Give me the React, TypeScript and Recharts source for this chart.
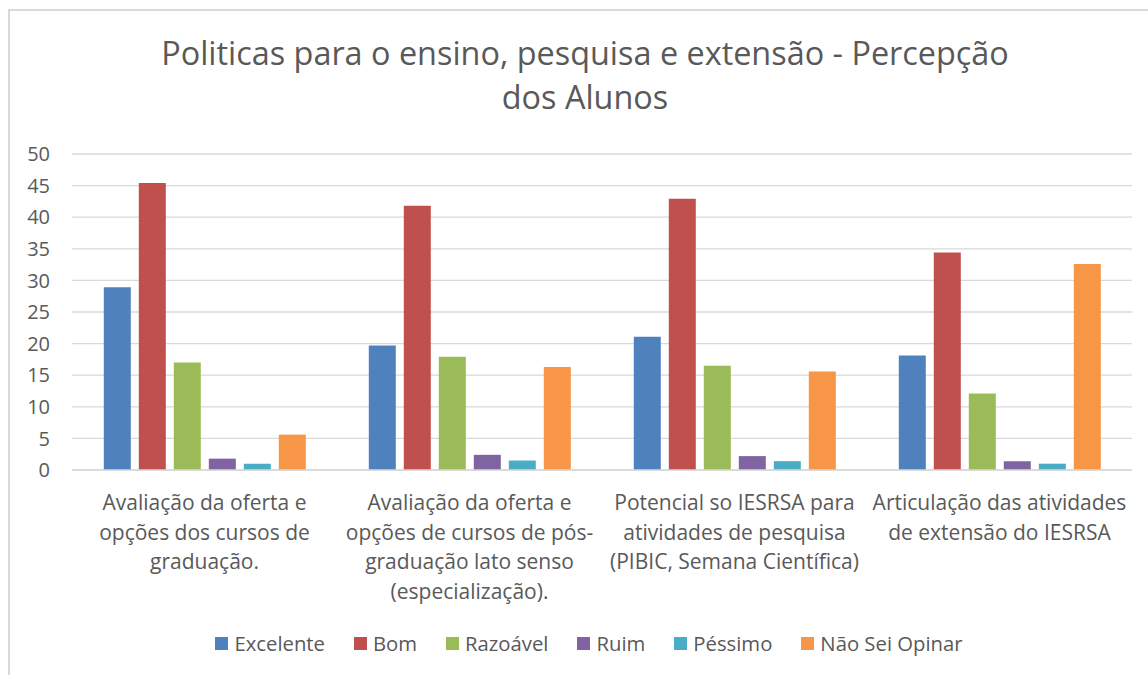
import React from 'react';
import { BarChart, Bar, XAxis, YAxis, CartesianGrid, Legend } from 'recharts';

const categories = [
  'Avaliação da oferta e opções dos cursos de graduação.',
  'Avaliação da oferta e opções de cursos de pós-graduação lato senso (especialização).',
  'Potencial so IESRSA para atividades de pesquisa (PIBIC, Semana Científica)',
  'Articulação das atividades de extensão do IESRSA',
];

const categoryLines = [
  ['Avaliação da oferta e', 'opções dos cursos de', 'graduação.'],
  ['Avaliação da oferta e', 'opções de cursos de pós-', 'graduação lato senso', '(especialização).'],
  ['Potencial so IESRSA para', 'atividades de pesquisa', '(PIBIC, Semana Científica)'],
  ['Articulação das atividades', 'de extensão do IESRSA'],
];

const excelente = [28.9, 19.7, 21.1, 18.1];
const bom = [45.4, 41.8, 42.9, 34.4];
const razoavel = [17.0, 17.9, 16.5, 12.1];
const ruim = [1.8, 2.4, 2.2, 1.4];
const pessimo = [1.0, 1.5, 1.4, 1.0];
const naoSeiOpinar = [5.6, 16.3, 15.6, 32.6];

const yTicks = [0, 5, 10, 15, 20, 25, 30, 35, 40, 45, 50];

const seriesNames = ['Excelente', 'Bom', 'Razoável', 'Ruim', 'Péssimo', 'Não Sei Opinar'];
const seriesColors = ['#4F81BD', '#C0504D', '#9BBB59', '#8064A2', '#4BACC6', '#F79646'];
const seriesValues = [excelente, bom, razoavel, ruim, pessimo, naoSeiOpinar];

const titleLines = ['Politicas para o ensino, pesquisa e extensão - Percepção', 'dos Alunos'];

const data = categories.map((c, i) => {
  const row: Record<string, string | number> = { category: c };
  seriesNames.forEach((s, k) => {
    row[s] = seriesValues[k][i];
  });
  return row;
});

const FONT = '"Open Sans", "DejaVu Sans", sans-serif';
const TEXT = '#595959';

const XTick = (props: any) => {
  const { x, y, payload } = props;
  const idx = categories.indexOf(payload.value);
  const lines = categoryLines[idx] || [payload.value];
  return (
    <text x={x} y={y} textAnchor="middle" fill={TEXT} fontSize={21} fontFamily={FONT}>
      {lines.map((l, i) => (
        <tspan key={i} x={x} dy={i === 0 ? 32 : 29.5}>
          {l}
        </tspan>
      ))}
    </text>
  );
};

const LegendContent = (props: any) => {
  const payload = [...(props.payload || [])].sort(
    (a: any, b: any) => seriesNames.indexOf(a.value) - seriesNames.indexOf(b.value)
  );
  return (
    <div
      style={{
        display: 'flex',
        justifyContent: 'center',
        alignItems: 'center',
        paddingLeft: 34,
        height: 24,
        fontFamily: FONT,
        fontSize: 20.3,
        color: TEXT,
      }}
    >
      {payload.map((p: any, i: number) => (
        <div key={i} style={{ display: 'flex', alignItems: 'center', marginRight: i < payload.length - 1 ? 29 : 0 }}>
          <span style={{ display: 'inline-block', width: 13, height: 13, background: p.color, marginRight: 6 }} />
          <span>{p.value}</span>
        </div>
      ))}
    </div>
  );
};

export default function App() {
  return (
    <div style={{ position: 'absolute', left: 0, top: 0, width: 1148, height: 675, background: '#fff', overflow: 'hidden' }}>
      <div
        style={{
          position: 'absolute',
          left: 8,
          top: 9,
          width: 1200,
          height: 700,
          border: '2px solid #d9d9d9',
          boxSizing: 'border-box',
        }}
      />
      <svg width={1148} height={130} style={{ position: 'absolute', left: 0, top: 0 }}>
        <text x={585} y={65} textAnchor="middle" fill={TEXT} fontSize={32.4} fontFamily={FONT} fontWeight={400}>
          {titleLines[0]}
        </text>
        <text x={585} y={109} textAnchor="middle" fill={TEXT} fontSize={32.4} fontFamily={FONT} fontWeight={400}>
          {titleLines[1]}
        </text>
      </svg>
      <div style={{ position: 'absolute', left: 0, top: 0 }}>
        <BarChart
          width={1148}
          height={675}
          data={data}
          margin={{ top: 154, right: 16, bottom: 20, left: 12 }}
          barCategoryGap="12%"
          barGap={8}
        >
          <CartesianGrid vertical={false} stroke="#d9d9d9" strokeWidth={1.3} />
          <XAxis
            dataKey="category"
            height={161}
            interval={0}
            tick={<XTick />}
            tickLine={false}
            axisLine={{ stroke: '#d9d9d9', strokeWidth: 1.3 }}
          />
          <YAxis
            width={60}
            domain={[0, 50]}
            ticks={yTicks}
            interval={0}
            tickLine={false}
            axisLine={false}
            tickMargin={16}
            tick={{ fill: TEXT, fontSize: 20, fontFamily: FONT }}
          />
          <Legend verticalAlign="bottom" height={24} content={<LegendContent />} />
          {seriesNames.map((s, k) => (
            <Bar key={s} dataKey={s} fill={seriesColors[k]} isAnimationActive={false} />
          ))}
        </BarChart>
      </div>
    </div>
  );
}
